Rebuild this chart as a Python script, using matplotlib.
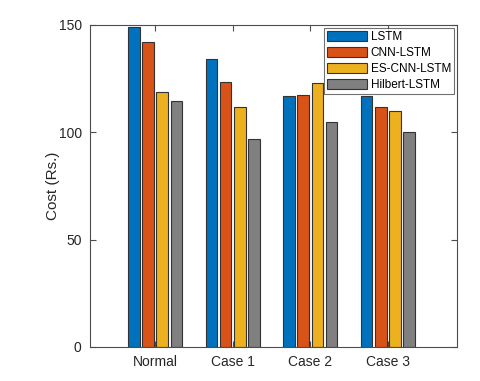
import matplotlib
matplotlib.use("Agg")
import matplotlib.pyplot as plt
import numpy as np

categories = ["Normal", "Case 1", "Case 2", "Case 3"]
series_names = ["LSTM", "CNN-LSTM", "ES-CNN-LSTM", "Hilbert-LSTM"]
lstm = [149.2, 134.1, 116.9, 116.9]
cnn_lstm = [141.9, 123.3, 117.5, 111.9]
es_cnn_lstm = [118.6, 111.6, 122.8, 109.8]
hilbert_lstm = [114.7, 97.0, 104.8, 100.1]
y_ticks = [0, 50, 100, 150]

colors = ["#0072BD", "#D95319", "#EDB120", "#808080"]
plt.rcParams['font.family'] = ['Liberation Sans', 'DejaVu Sans']

fig = plt.figure(figsize=(4.8, 3.81), dpi=100)
ax = fig.add_axes([90/480, 1-347/381, (457-90)/480, (347-25)/381])

x = np.arange(1, len(categories)+1)
pitch = 0.183
width = 0.15
all_series = [lstm, cnn_lstm, es_cnn_lstm, hilbert_lstm]
for i, (vals, name, c) in enumerate(zip(all_series, series_names, colors)):
    ax.bar(x + (i-1.5)*pitch, vals, width, color=c, edgecolor='#333333',
           linewidth=0.8, label=name)

axc = '#4d4d4d'
ax.set_xlim(0.16, 4.89)
ax.set_ylim(0, 150)
ax.set_xticks(x)
ax.set_xticklabels(categories)
ax.set_yticks(y_ticks)
ax.tick_params(direction='in', top=True, right=True, colors=axc, labelcolor='#262626',
               labelsize=10, length=4, width=0.8, pad=6)
for s in ax.spines.values():
    s.set_color(axc)
    s.set_linewidth(0.8)
ax.set_ylabel("Cost (Rs.)", fontsize=11, color='#262626', labelpad=-1)

leg = ax.legend(loc='upper right', fontsize=8.5, frameon=True, fancybox=False,
                edgecolor=axc, handlelength=3.4, handleheight=1.0,
                borderpad=0.25, labelspacing=0.3, handletextpad=0.3,
                borderaxespad=0.25)
leg.get_frame().set_linewidth(0.8)

fig.savefig("out.png", dpi=100)
